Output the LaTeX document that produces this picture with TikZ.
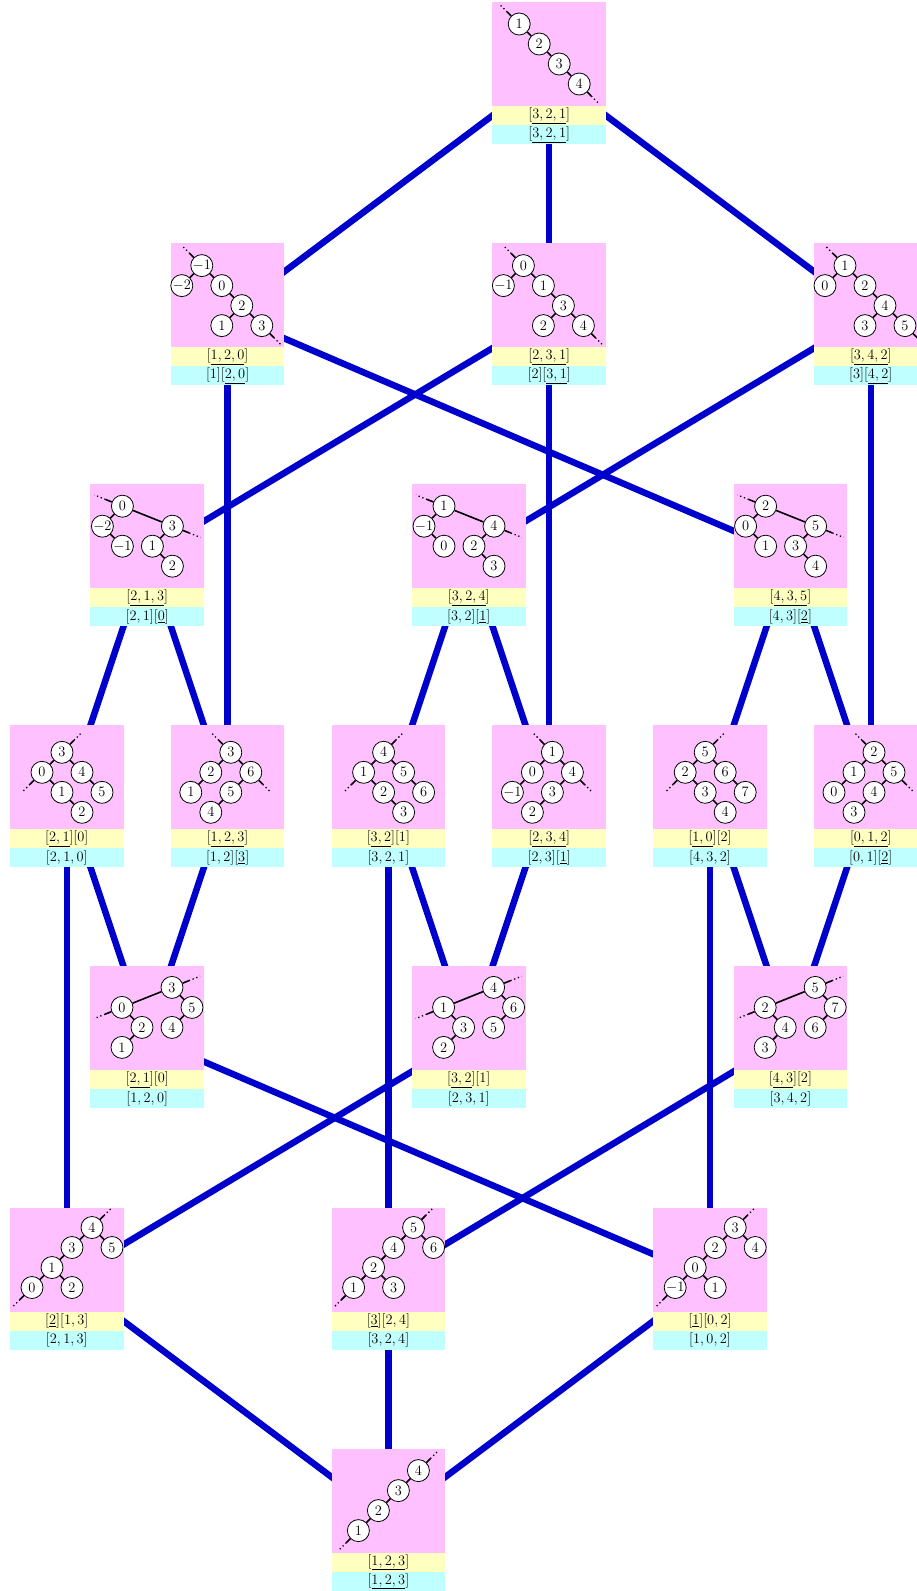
\documentclass[tikz,border=0pt]{standalone}
\usetikzlibrary{backgrounds}
\definecolor{cpink}{RGB}{255,192,255}
\definecolor{cyel}{RGB}{255,255,192}
\definecolor{ccyan}{RGB}{192,255,255}
\definecolor{cblue}{RGB}{0,0,204}
\newcommand\fs{\fontsize{14.4}{17}\selectfont}
\tikzset{
 tn/.style={circle,draw,fill=white,line width=0.8pt,minimum size=22pt,inner sep=0pt,font=\fs},
 tedge/.style={line width=1.6pt},
 dotl/.style={line width=1.3pt,dash pattern=on 1.3pt off 2.7pt},
 conn/.style={line width=6.5pt,cblue},
 cardbox/.style={minimum width=113.6pt,minimum height=142pt,inner sep=0pt,outer sep=0pt,anchor=north west},
 lab/.style={inner sep=0pt,font=\fs},
}
\newcommand\ext[3]{%
 \draw[tedge] (#1) -- ++({0.6*#2},{0.6*#3});
 \draw[dotl] (#1.center) ++({0.6*#2},{0.6*#3}) -- ++({0.4*#2},{0.4*#3});}
\newcommand\card[5]{%
 \node[cardbox] (#1) at (#2,#3) {};
 \fill[cpink] (#1.north west) rectangle ++(113.6,104);
 \fill[cyel] ([yshift=-104pt]#1.north west) rectangle ++(113.6,19);
 \fill[ccyan] ([yshift=-123pt]#1.north west) rectangle ++(113.6,19);
 \node[lab] (#1-y) at ([yshift=-113.5pt]#1.north) {#4};
 \node[lab] (#1-cy) at ([yshift=-132.5pt]#1.north) {#5};}
% diagonal down
\newcommand\shDD[5]{%
 \node[tn] (#1-n1) at (26.8,22) {$#2$};
 \node[tn] (#1-n2) at (46.8,42) {$#3$};
 \node[tn] (#1-n3) at (66.8,62) {$#4$};
 \node[tn] (#1-n4) at (86.8,82) {$#5$};
 \draw[tedge] (#1-n1)--(#1-n2) (#1-n2)--(#1-n3) (#1-n3)--(#1-n4);
 \ext{#1-n1}{-20}{-20}\ext{#1-n4}{20}{20}}
% diagonal up
\newcommand\shDU[5]{%
 \node[tn] (#1-n1) at (26.8,82) {$#2$};
 \node[tn] (#1-n2) at (46.8,62) {$#3$};
 \node[tn] (#1-n3) at (66.8,42) {$#4$};
 \node[tn] (#1-n4) at (86.8,22) {$#5$};
 \draw[tedge] (#1-n1)--(#1-n2) (#1-n2)--(#1-n3) (#1-n3)--(#1-n4);
 \ext{#1-n1}{-20}{20}\ext{#1-n4}{20}{-20}}
% row 2: root, L, R, RR, RRL, RRR
\newcommand\shTwo[7]{%
 \node[tn] (#1-n1) at (31,22.5) {$#2$};
 \node[tn] (#1-n2) at (11,42.5) {$#3$};
 \node[tn] (#1-n3) at (51,42.5) {$#4$};
 \node[tn] (#1-n4) at (71,62.5) {$#5$};
 \node[tn] (#1-n5) at (51,82.5) {$#6$};
 \node[tn] (#1-n6) at (91,82.5) {$#7$};
 \draw[tedge] (#1-n1)--(#1-n2) (#1-n1)--(#1-n3) (#1-n3)--(#1-n4) (#1-n4)--(#1-n5) (#1-n4)--(#1-n6);
 \ext{#1-n1}{-20}{-20}\ext{#1-n6}{20}{20}}
% row 3: root, L, LR, S, SL, SLR
\newcommand\shThree[7]{%
 \node[tn] (#1-n1) at (32,22) {$#2$};
 \node[tn] (#1-n2) at (12,42) {$#3$};
 \node[tn] (#1-n3) at (32,62) {$#4$};
 \node[tn] (#1-n4) at (82,42) {$#5$};
 \node[tn] (#1-n5) at (62,62) {$#6$};
 \node[tn] (#1-n6) at (82,82) {$#7$};
 \draw[tedge] (#1-n1)--(#1-n2) (#1-n2)--(#1-n3) (#1-n1)--(#1-n4) (#1-n4)--(#1-n5) (#1-n5)--(#1-n6);
 \ext{#1-n1}{-28}{-11.2}\ext{#1-n4}{28}{11.2}}
% row 4a: root, L, R, LR, RR, LRR
\newcommand\shFourA[7]{%
 \node[tn] (#1-n1) at (52,27) {$#2$};
 \node[tn] (#1-n2) at (32,47) {$#3$};
 \node[tn] (#1-n3) at (72,47) {$#4$};
 \node[tn] (#1-n4) at (52,67) {$#5$};
 \node[tn] (#1-n5) at (92,67) {$#6$};
 \node[tn] (#1-n6) at (72,87) {$#7$};
 \draw[tedge] (#1-n1)--(#1-n2) (#1-n1)--(#1-n3) (#1-n2)--(#1-n4) (#1-n4)--(#1-n6) (#1-n3)--(#1-n5);
 \ext{#1-n1}{20}{-20}\ext{#1-n2}{-20}{20}}
% row 4b: root, L, R, LL, RL, RLL
\newcommand\shFourB[7]{%
 \node[tn] (#1-n1) at (60,27) {$#2$};
 \node[tn] (#1-n2) at (40,47) {$#3$};
 \node[tn] (#1-n3) at (80,47) {$#4$};
 \node[tn] (#1-n4) at (20,67) {$#5$};
 \node[tn] (#1-n5) at (60,67) {$#6$};
 \node[tn] (#1-n6) at (40,87) {$#7$};
 \draw[tedge] (#1-n1)--(#1-n2) (#1-n1)--(#1-n3) (#1-n2)--(#1-n4) (#1-n3)--(#1-n5) (#1-n5)--(#1-n6);
 \ext{#1-n1}{-20}{-20}\ext{#1-n3}{20}{20}}
% row 5: Sr, B, BL, Sl, A, AL
\newcommand\shFive[7]{%
 \node[tn] (#1-n1) at (81.6,21) {$#2$};
 \node[tn] (#1-n2) at (101.6,41) {$#3$};
 \node[tn] (#1-n3) at (81.6,61) {$#4$};
 \node[tn] (#1-n4) at (31.6,41) {$#5$};
 \node[tn] (#1-n5) at (51.6,61) {$#6$};
 \node[tn] (#1-n6) at (31.6,81) {$#7$};
 \draw[tedge] (#1-n4)--(#1-n1) (#1-n1)--(#1-n2) (#1-n2)--(#1-n3) (#1-n4)--(#1-n5) (#1-n5)--(#1-n6);
 \ext{#1-n1}{28}{-11.2}\ext{#1-n4}{-28}{11.2}}
% row 6: root, L, R, LL, LLL, LLR
\newcommand\shSix[7]{%
 \node[tn] (#1-n1) at (82,20) {$#2$};
 \node[tn] (#1-n2) at (62,40) {$#3$};
 \node[tn] (#1-n3) at (102,40) {$#4$};
 \node[tn] (#1-n4) at (42,60) {$#5$};
 \node[tn] (#1-n5) at (22,80) {$#6$};
 \node[tn] (#1-n6) at (62,80) {$#7$};
 \draw[tedge] (#1-n1)--(#1-n2) (#1-n1)--(#1-n3) (#1-n2)--(#1-n4) (#1-n4)--(#1-n5) (#1-n4)--(#1-n6);
 \ext{#1-n1}{20}{-20}\ext{#1-n5}{-20}{20}}
\newcommand\tree[2]{\begin{scope}[shift={(#1.north west)}]#2\end{scope}}
\begin{document}
\begin{tikzpicture}[x=1pt,y=-1pt]
\useasboundingbox (0,0) rectangle (917,1591);
% row 1
\card{T}{492.4}{2}{$[\underline{3,2,1}]$}{$[\underline{3,2,1}]$}
\tree{T}{\shDD{T}{1}{2}{3}{4}}
% row 2
\card{A}{170.8}{243.1}{$[\underline{1,2,0}]$}{$[1][\underline{2,0}]$}
\tree{A}{\shTwo{A}{-1}{-2}{0}{2}{1}{3}}
\card{B}{492.4}{243.1}{$[\underline{2,3,1}]$}{$[2][\underline{3,1}]$}
\tree{B}{\shTwo{B}{0}{-1}{1}{3}{2}{4}}
\card{C}{814}{243.1}{$[\underline{3,4,2}]$}{$[3][\underline{4,2}]$}
\tree{C}{\shTwo{C}{1}{0}{2}{4}{3}{5}}
% row 3
\card{D}{90.4}{484.2}{$[\underline{2,1,3}]$}{$[2,1][\underline{0}]$}
\tree{D}{\shThree{D}{0}{-2}{-1}{3}{1}{2}}
\card{E}{412}{484.2}{$[\underline{3,2,4}]$}{$[3,2][\underline{1}]$}
\tree{E}{\shThree{E}{1}{-1}{0}{4}{2}{3}}
\card{F}{733.6}{484.2}{$[\underline{4,3,5}]$}{$[4,3][\underline{2}]$}
\tree{F}{\shThree{F}{2}{0}{1}{5}{3}{4}}
% row 4
\card{G1}{10}{725.3}{$[\underline{2,1}][0]$}{$[2,1,0]$}
\tree{G1}{\shFourA{G1}{3}{0}{4}{1}{5}{2}}
\card{G2}{170.8}{725.3}{$[\underline{1,2,3}]$}{$[1,2][\underline{3}]$}
\tree{G2}{\shFourB{G2}{3}{2}{6}{1}{5}{4}}
\card{G3}{331.6}{725.3}{$[\underline{3,2}][1]$}{$[3,2,1]$}
\tree{G3}{\shFourA{G3}{4}{1}{5}{2}{6}{3}}
\card{G4}{492.4}{725.3}{$[\underline{2,3,4}]$}{$[2,3][\underline{1}]$}
\tree{G4}{\shFourB{G4}{1}{0}{4}{-1}{3}{2}}
\card{G5}{653.2}{725.3}{$[\underline{1,0}][2]$}{$[4,3,2]$}
\tree{G5}{\shFourA{G5}{5}{2}{6}{3}{7}{4}}
\card{G6}{814}{725.3}{$[\underline{0,1,2}]$}{$[0,1][\underline{2}]$}
\tree{G6}{\shFourB{G6}{2}{1}{5}{0}{4}{3}}
% row 5
\card{H1}{90.4}{966.4}{$[\underline{2,1}][0]$}{$[1,2,0]$}
\tree{H1}{\shFive{H1}{3}{5}{4}{0}{2}{1}}
\card{H2}{412}{966.4}{$[\underline{3,2}][1]$}{$[2,3,1]$}
\tree{H2}{\shFive{H2}{4}{6}{5}{1}{3}{2}}
\card{H3}{733.6}{966.4}{$[\underline{4,3}][2]$}{$[3,4,2]$}
\tree{H3}{\shFive{H3}{5}{7}{6}{2}{4}{3}}
% row 6
\card{I1}{10}{1207.5}{$[\underline{2}][1,3]$}{$[2,1,3]$}
\tree{I1}{\shSix{I1}{4}{3}{5}{1}{0}{2}}
\card{I2}{331.6}{1207.5}{$[\underline{3}][2,4]$}{$[3,2,4]$}
\tree{I2}{\shSix{I2}{5}{4}{6}{2}{1}{3}}
\card{I3}{653.2}{1207.5}{$[\underline{1}][0,2]$}{$[1,0,2]$}
\tree{I3}{\shSix{I3}{3}{2}{4}{0}{-1}{1}}
% row 7
\card{J}{331.6}{1448.6}{$[\underline{1,2,3}]$}{$[\underline{1,2,3}]$}
\tree{J}{\shDU{J}{1}{2}{3}{4}}
% connectors
\begin{pgfonlayer}{background}
\foreach \a/\b in {T/A,T/B,T/C,A/G2,A/F,B/D,B/G4,C/E,C/G6,D/G1,D/G2,E/G3,E/G4,F/G5,F/G6,
  G1/H1,G2/H1,G1/I1,G3/H2,G4/H2,G3/I2,G5/H3,G6/H3,G5/I3,H1/I3,H2/I1,H3/I2,I1/J,I2/J,I3/J}
  \draw[conn] (\a.center) -- (\b.center);
\end{pgfonlayer}
\end{tikzpicture}
\end{document}
